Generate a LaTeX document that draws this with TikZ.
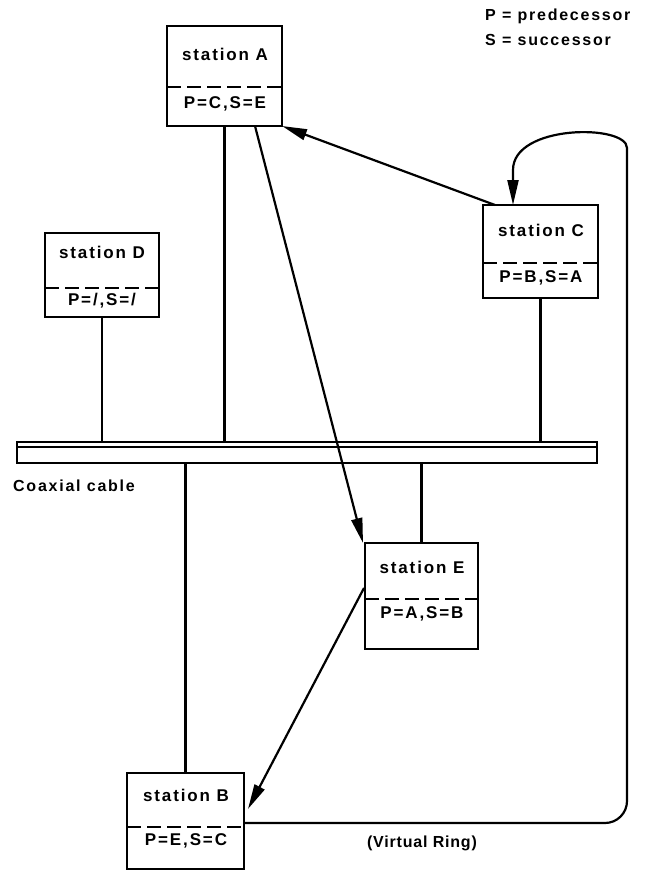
\documentclass[tikz,border=0pt]{standalone}
\usepackage{fontspec}
\setmainfont{Liberation Sans}
\newfontfamily\lblfont{Liberation Sans}[LetterSpace=11]
\newfontfamily\ringfont{Liberation Sans}[LetterSpace=5]
\usetikzlibrary{arrows.meta,calc}
\begin{document}
\begin{tikzpicture}[x=1pt,y=-1pt,
  stationbox/.style={draw, line width=2.2pt, anchor=north west, inner sep=0pt, outer sep=0pt},
  lbl/.style={font=\lblfont\fontsize{17}{19}\selectfont\bfseries, inner sep=0pt},
  small/.style={font=\lblfont\fontsize{16}{18}\selectfont\bfseries, inner sep=0pt},
  dashline/.style={line width=1.6pt, dash pattern=on 14pt off 6pt},
  stub/.style={line width=2.2pt},
  conn/.style={line width=2.2pt, -{Triangle[length=25pt,width=11pt]}},
]
\useasboundingbox (0,0) rectangle (650,870);

% legend
\node[small, anchor=west] (legP) at (485,16) {P = predecessor};
\node[small, anchor=west] (legS) at (485,40) {S = successor};

% station A
\node[stationbox, minimum width=115pt, minimum height=100pt] (Abox) at (167,26) {};
\node[lbl] (Aname) at (225,54) {station A};
\draw[dashline] (Abox.west |- 0,87) -- (Abox.east |- 0,87);
\node[lbl] (Aps) at (225,104) {P=C,S=E};

% station C
\node[stationbox, minimum width=115pt, minimum height=93pt] (Cbox) at (483,205) {};
\node[lbl] (Cname) at (541,230) {station C};
\draw[dashline] (Cbox.west |- 0,263) -- (Cbox.east |- 0,263);
\node[lbl] (Cps) at (541,278) {P=B,S=A};

% station D
\node[stationbox, minimum width=114pt, minimum height=84pt] (Dbox) at (45,233) {};
\node[lbl] (Dname) at (102,252) {station D};
\draw[dashline] (Dbox.west |- 0,288) -- (Dbox.east |- 0,288);
\node[lbl] (Dps) at (102,301) {P=/,S=/};

% station E
\node[stationbox, minimum width=113pt, minimum height=106pt] (Ebox) at (365,543) {};
\node[lbl] (Ename) at (422,567) {station E};
\draw[dashline] (Ebox.west |- 0,599) -- (Ebox.east |- 0,599);
\node[lbl] (Eps) at (422,614) {P=A,S=B};

% station B
\node[stationbox, minimum width=117pt, minimum height=96pt] (Bbox) at (127,773) {};
\node[lbl] (Bname) at (186,795) {station B};
\draw[dashline] (Bbox.west |- 0,827) -- (Bbox.east |- 0,827);
\node[lbl] (Bps) at (186,841) {P=E,S=C};

% coaxial cable
\node[stationbox, line width=1.8pt, minimum width=580pt, minimum height=21pt] (cable) at (17,442) {};
\draw[line width=1.4pt] ($(cable.north west)+(0,5)$) -- ($(cable.north east)+(0,5)$);
\node[small, anchor=west] (coax) at (13,486) {Coaxial cable};

% stubs
\draw[stub] (Dbox.south) -- (Dbox.south |- cable.north);
\draw[stub] (Abox.south) -- (Abox.south |- cable.north);
\draw[stub] (Cbox.south) -- (Cbox.south |- cable.north);
\draw[stub] (Bbox.north |- cable.south) -- (Bbox.north);
\draw[stub] (Ebox.north |- cable.south) -- (Ebox.north);

% logical ring arrows
\draw[conn] ($(Cbox.north west)+(12,0)$) -- (Abox.south east);
\draw[conn] ($(Abox.south west)+(88,0)$) -- ($(Ebox.north west)+(-2,0)$);
\draw[conn] ($(Ebox.north west)+(-1,45)$) -- ($(Bbox.north east)+(4,36)$);
\draw[conn, rounded corners=22pt] ($(Bbox.north east)+(0,50)$) -- (627,823) -- (627,170)
  [sharp corners] .. controls (627,124) and (513,124) .. (513,170) -- (Cbox.north west -| 513,0);
\node[font=\ringfont\fontsize{16}{18}\selectfont\bfseries, inner sep=0pt] (vring) at (422,843) {(Virtual Ring)};
\end{tikzpicture}
\end{document}
